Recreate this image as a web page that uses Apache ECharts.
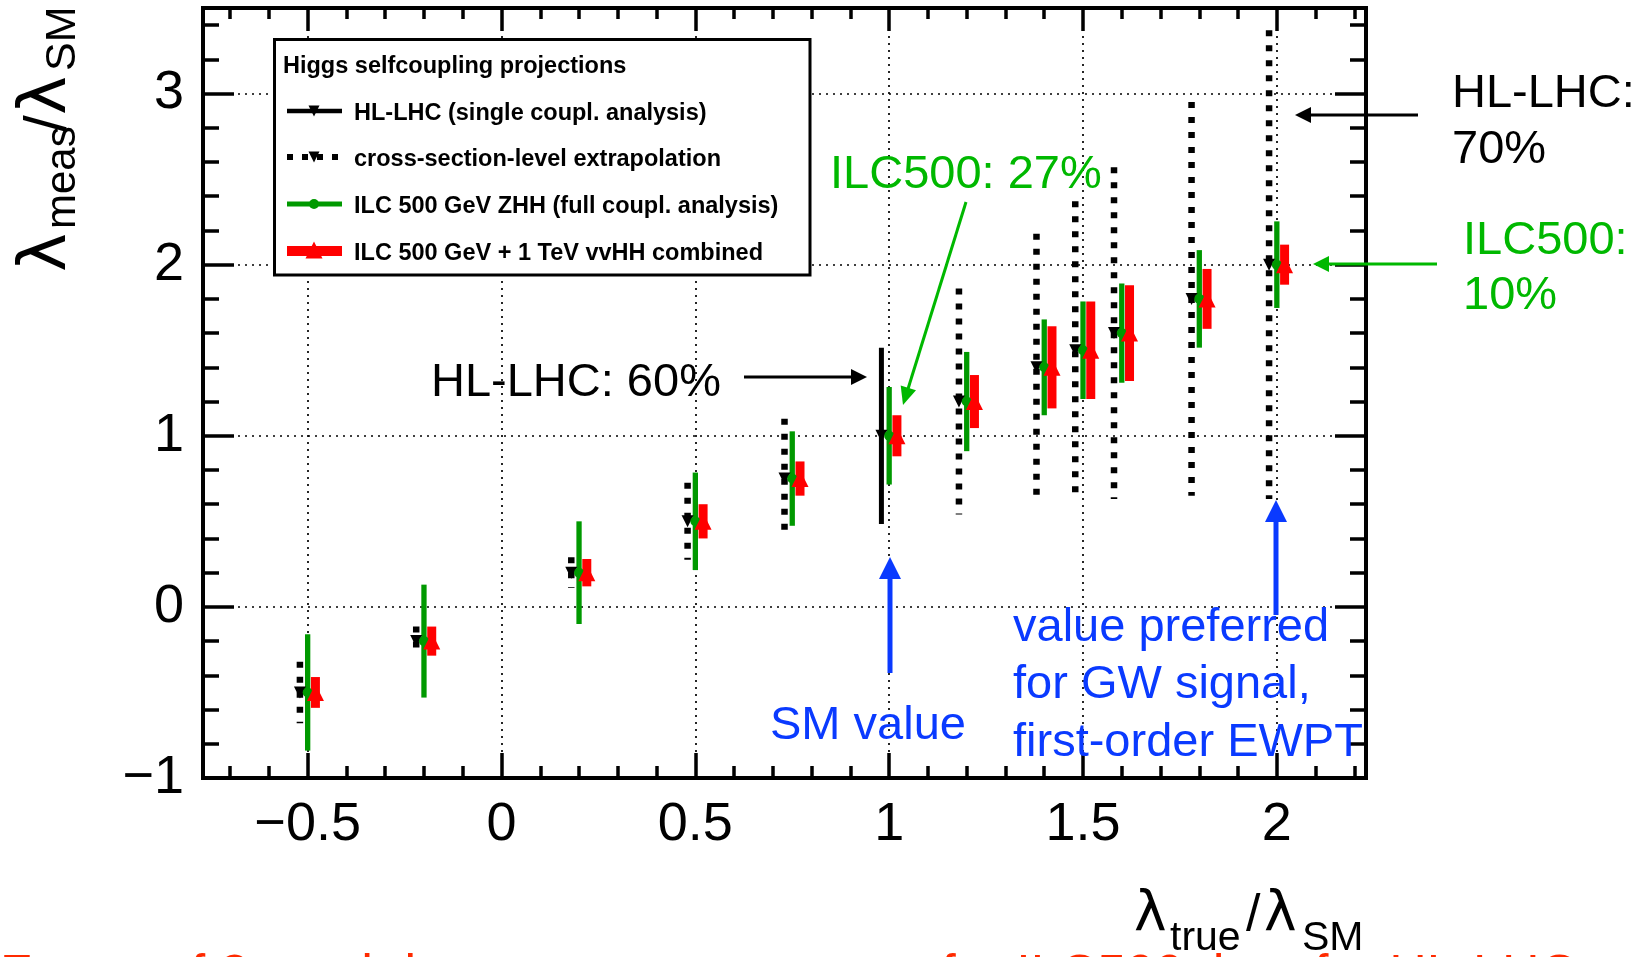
<!DOCTYPE html>
<html><head><meta charset="utf-8">
<script src="https://cdn.jsdelivr.net/npm/echarts@6/dist/echarts.min.js"></script>
<style>html,body{margin:0;padding:0;background:#fff}#c{width:1648px;height:957px}</style>
</head><body><div id="c"></div>
<script>
// ---------------- data ----------------
const xTrue       = [-0.5, -0.2, 0.2, 0.5, 0.75, 1.0, 1.2, 1.4, 1.5, 1.6, 1.8, 2.0];
const measCentral = [-0.5, -0.2, 0.2, 0.5, 0.75, 1.0, 1.2, 1.4, 1.5, 1.6, 1.8, 2.0];
// HL-LHC single coupling analysis (solid black), half-width of error bar
const hlLhcErr    = [null, null, null, null, null, 0.515, null, null, null, null, null, null];
// cross-section-level extrapolation (dashed black)
const xsecErr     = [0.18, 0.085, 0.09, 0.225, 0.35, null, 0.66, 0.78, 0.87, 0.97, 1.15, 1.37];
// ILC 500 GeV ZHH (green)
const ilc500Err   = [0.34, 0.33, 0.30, 0.285, 0.276, 0.285, 0.29, 0.28, 0.285, 0.29, 0.285, 0.253];
// ILC 500 GeV + 1 TeV combined (red)
const combErr     = [0.09, 0.085, 0.08, 0.10, 0.10, 0.12, 0.155, 0.24, 0.285, 0.28, 0.175, 0.117];

const xMajor = [-0.5, 0, 0.5, 1, 1.5, 2];
const xMinor = [-0.7, -0.6, -0.4, -0.3, -0.2, -0.1, 0.1, 0.2, 0.3, 0.4, 0.6, 0.7, 0.8, 0.9,
                1.1, 1.2, 1.3, 1.4, 1.6, 1.7, 1.8, 1.9, 2.1, 2.2];
const yMajor = [-1, 0, 1, 2, 3];
const yMinor = [-0.8, -0.6, -0.4, -0.2, 0.2, 0.4, 0.6, 0.8, 1.2, 1.4, 1.6, 1.8,
                2.2, 2.4, 2.6, 2.8, 3.2, 3.4];
const X_MIN = -0.77, X_MAX = 2.23, Y_MIN = -1, Y_MAX = 3.5;

const legendTitle = 'Higgs selfcoupling projections';
const legendNames = ['HL-LHC (single coupl. analysis)', 'cross-section-level extrapolation',
                     'ILC 500 GeV ZHH (full coupl. analysis)', 'ILC 500 GeV + 1 TeV vvHH combined'];

// ---------------- style ----------------
const FONT = "'Liberation Sans', Arial, Helvetica, sans-serif";
const GFONT = "'DejaVu Sans', 'Liberation Sans', sans-serif";
const GREEN = '#009900', GREEN_TXT = '#00b800', BLUE = '#0a3aff', RED = '#ff0000';
const DX = 0.02; // horizontal offset between the series

function pts(err, off) {
  const out = [];
  xTrue.forEach((x, i) => { if (err[i] != null) out.push([x + off, measCentral[i], err[i]]); });
  return out;
}
function barSeries(data, color, width, dash) {
  return {
    type: 'custom', data, xAxisIndex: 0, yAxisIndex: 0, encode: { x: 0, y: 1 }, silent: true, clip: false,
    renderItem: (params, api) => {
      const x = api.value(0), y = api.value(1), e = api.value(2);
      const a = api.coord([x, y + e]), b = api.coord([x, y - e]);
      return { type: 'line', shape: { x1: a[0], y1: a[1], x2: b[0], y2: b[1] },
        style: { stroke: color, lineWidth: width, lineDash: dash || null, lineCap: 'butt' } };
    }
  };
}
function markerSeries(data, symbol, size, color, rot) {
  return { type: 'scatter', data: data.map(p => [p[0], p[1]]), xAxisIndex: 0, yAxisIndex: 0,
    symbol, symbolSize: size, symbolRotate: rot || 0, silent: true,
    itemStyle: { color, opacity: 1 } };
}

const tickStyle = { color: '#000', width: 3.5 };
const gridLine = { show: true, lineStyle: { color: '#000', width: 1.7, type: [2, 5] } };
const fmt = v => (v < 0 ? '\u2212' + String(Math.abs(v)) : String(v));
function axis(base, opts) {
  return Object.assign({
    type: 'value', axisLine: { show: false, onZero: false }, splitLine: { show: false },
    axisLabel: { show: false }, axisTick: { show: false }
  }, base, opts);
}
const xBase = { min: X_MIN, max: X_MAX, gridIndex: 0 };
const yBase = { min: Y_MIN, max: Y_MAX, gridIndex: 0 };

// ---------------- graphic helpers ----------------
function txt(x, base, s, size, color, opt) {
  opt = opt || {};
  return { type: 'text', x: x, y: base - 0.26 * size, z: 100,
    style: { text: s, fill: color, fontSize: size, fontFamily: opt.family || FONT,
      fontWeight: opt.weight || 'normal', textAlign: opt.align || 'left', textVerticalAlign: 'middle' } };
}
function arrow(x1, y1, x2, y2, color, lw, L, W) {
  const dx = x2 - x1, dy = y2 - y1, len = Math.hypot(dx, dy), ux = dx / len, uy = dy / len;
  const bx = x2 - ux * L, by = y2 - uy * L;
  return [
    { type: 'line', z: 100, shape: { x1, y1, x2: bx + ux, y2: by + uy }, style: { stroke: color, lineWidth: lw } },
    { type: 'polygon', z: 100, shape: { points: [[x2, y2], [bx - uy * W, by + ux * W], [bx + uy * W, by - ux * W]] },
      style: { fill: color } }
  ];
}
function triDown(cx, cy, s, color) {
  return { type: 'polygon', z: 102, shape: { points: [[cx - s / 2, cy - s / 2], [cx + s / 2, cy - s / 2], [cx, cy + s / 2]] }, style: { fill: color } };
}
function triUp(cx, cy, s, color) {
  return { type: 'polygon', z: 102, shape: { points: [[cx - s / 2, cy + s / 2], [cx + s / 2, cy + s / 2], [cx, cy - s / 2]] }, style: { fill: color } };
}
function seg(x1, y1, x2, y2, color, lw, dash) {
  return { type: 'line', z: 101, shape: { x1, y1, x2, y2 }, style: { stroke: color, lineWidth: lw, lineDash: dash || null } };
}

// legend
const LX1 = 287, LX2 = 342, LMX = 314, LTX = 354;
const legendY = [111, 157, 204, 251];
const legendBase = [120, 166, 213, 260];
const legend = [
  { type: 'rect', z: 99, shape: { x: 274.5, y: 39.5, width: 535.5, height: 235.5 },
    style: { fill: '#fff', stroke: '#000', lineWidth: 3 } },
  txt(283, 72.5, legendTitle, 23.5, '#000', { weight: 'bold' }),
  seg(LX1, legendY[0], LX2, legendY[0], '#000', 4.5), triDown(LMX, legendY[0], 11, '#000'),
  seg(LX1, legendY[1], LX2, legendY[1], '#000', 6, [6, 9]), triDown(LMX, legendY[1], 11, '#000'),
  seg(LX1, legendY[2], LX2, legendY[2], GREEN, 5),
  { type: 'circle', z: 102, shape: { cx: LMX, cy: legendY[2], r: 5 }, style: { fill: GREEN } },
  seg(LX1, legendY[3], LX2, legendY[3], RED, 10), triUp(LMX, legendY[3] - 1, 17, RED)
];
legendNames.forEach((n, i) => legend.push(txt(LTX, legendBase[i], n, 23.5, '#000', { weight: 'bold' })));

// annotations
const ann = [].concat(
  [txt(431, 395, 'HL-LHC: 60%', 47, '#000')], arrow(744, 377, 867, 377, '#000', 3, 16, 8),
  [txt(830, 187, 'ILC500: 27%', 47, GREEN_TXT)], arrow(966, 202, 903, 405, GREEN_TXT, 3, 18, 8),
  [txt(1452, 106, 'HL-LHC:', 47, '#000'), txt(1452, 162, '70%', 47, '#000')],
  arrow(1418, 115, 1295, 115, '#000', 3, 16, 8),
  [txt(1463, 253, 'ILC500:', 47, GREEN_TXT), txt(1463, 308, '10%', 47, GREEN_TXT)],
  arrow(1437, 264, 1313, 264, GREEN_TXT, 3, 16, 8),
  [txt(770, 738, 'SM value', 47, BLUE)], arrow(890, 673, 890, 557, BLUE, 5, 22, 11),
  [txt(1013, 640, 'value preferred', 47, BLUE), txt(1013, 697, 'for GW signal,', 47, BLUE),
   txt(1013, 755, 'first-order EWPT', 47, BLUE)],
  arrow(1276, 615, 1276, 500, BLUE, 5, 22, 11),
  [txt(0, 990, 'Factor of 2 much better measurement', 52, '#ff2a00'),
   txt(1577, 990, 'for ILC500 than for HL-LHC', 52, '#ff2a00', { align: 'right' })]
);

// axis titles
const xTitle = [
  txt(1134, 930, '\u03bb', 55, '#000', { family: GFONT }),
  txt(1170, 949, 'true', 41, '#000'),
  txt(1246, 930, '/', 52, '#000'),
  txt(1264, 930, '\u03bb', 55, '#000', { family: GFONT }),
  txt(1302, 949, 'SM', 41, '#000')
];
const yTitleGroup = {
  type: 'group', x: 65, y: 272, rotation: Math.PI / 2, z: 100,
  children: [
    txt(0, 0, '\u03bb', 66, '#000', { family: GFONT }),
    txt(43, 9, 'meas', 42, '#000'),
    txt(140, 0, '/', 60, '#000'),
    txt(157, 0, '\u03bb', 66, '#000', { family: GFONT }),
    txt(201, 9, 'SM', 43, '#000')
  ]
};

const option = {
  animation: false,
  backgroundColor: '#fff',
  grid: { left: 203, right: 282, top: 8, bottom: 179, show: true, borderColor: '#000', borderWidth: 4,
    backgroundColor: 'transparent', containLabel: false, outerBoundsMode: 'none' },
  xAxis: [
    axis(xBase, { position: 'bottom',
      axisTick: { show: true, inside: true, length: 25, customValues: xMajor, lineStyle: tickStyle },
      axisLabel: { show: true, customValues: xMajor, margin: 20, fontSize: 54, fontFamily: FONT, color: '#000', formatter: fmt },
      splitLine: gridLine }),
    axis(xBase, { position: 'bottom', axisTick: { show: true, inside: true, length: 12, customValues: xMinor, lineStyle: tickStyle } }),
    axis(xBase, { position: 'top', axisTick: { show: true, inside: true, length: 23, customValues: xMajor, lineStyle: tickStyle } }),
    axis(xBase, { position: 'top', axisTick: { show: true, inside: true, length: 11, customValues: xMinor, lineStyle: tickStyle } })
  ],
  yAxis: [
    axis(yBase, { position: 'left',
      axisTick: { show: true, inside: true, length: 31, customValues: yMajor, lineStyle: tickStyle },
      axisLabel: { show: true, customValues: yMajor, margin: 19, fontSize: 54, fontFamily: FONT, color: '#000', formatter: fmt },
      splitLine: gridLine }),
    axis(yBase, { position: 'left', axisTick: { show: true, inside: true, length: 16, customValues: yMinor, lineStyle: tickStyle } }),
    axis(yBase, { position: 'right', axisTick: { show: true, inside: true, length: 31, customValues: yMajor, lineStyle: tickStyle } }),
    axis(yBase, { position: 'right', axisTick: { show: true, inside: true, length: 16, customValues: yMinor, lineStyle: tickStyle } })
  ],
  series: [
    barSeries(pts(xsecErr, -DX), '#000', 6.5, [6, 9]),
    barSeries(pts(hlLhcErr, -DX), '#000', 5),
    markerSeries(pts(xsecErr, -DX).concat(pts(hlLhcErr, -DX)), 'triangle', [12, 12], '#000', 180),
    barSeries(pts(ilc500Err, 0), GREEN, 5.3),
    markerSeries(pts(ilc500Err, 0), 'circle', 10, GREEN),
    barSeries(pts(combErr, DX), RED, 9),
    markerSeries(pts(combErr, DX), 'triangle', [17, 17], RED)
  ],
  graphic: { elements: legend.concat(ann, xTitle, [yTitleGroup]) }
};

const chart = echarts.init(document.getElementById('c'), null, { renderer: 'canvas' });
chart.setOption(option);
</script></body></html>
